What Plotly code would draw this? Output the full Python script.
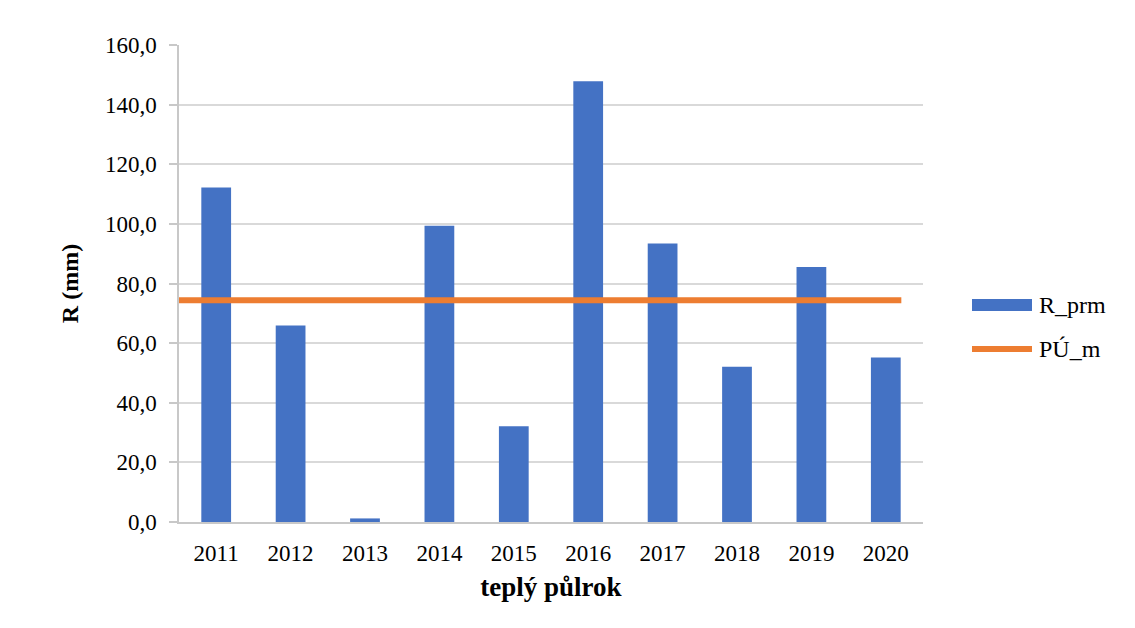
import plotly.graph_objects as go

years = ["2011", "2012", "2013", "2014", "2015", "2016", "2017", "2018", "2019", "2020"]
r_prm = [112.2, 65.9, 1.2, 99.4, 32.1, 147.8, 93.4, 52.1, 85.5, 55.2]
pu_m = [74.4] * len(years)
year_nums = [int(y) for y in years]
y_ticks = [0, 20, 40, 60, 80, 100, 120, 140, 160]
y_ticktext = [f"{v:.1f}".replace(".", ",") for v in y_ticks]

BLUE = "#4472C4"
ORANGE = "#ED7D31"
FONT = "Liberation Serif"

fig = go.Figure()
fig.add_trace(go.Bar(x=years, y=r_prm, name="R_prm", marker=dict(color=BLUE, line=dict(width=0)),
                     showlegend=False))
fig.add_trace(go.Scatter(x=year_nums, y=pu_m, name="PÚ_m", mode="lines", xaxis="x2",
                         line=dict(color=ORANGE, width=6), showlegend=False))

OFF = 8  # page body margin
L, R, T, B = 179 - OFF, 212 + OFF, 45 - OFF, 106 + OFF
W, H = 1135, 628

fig.update_layout(
    width=W, height=H,
    margin=dict(l=L, r=R, t=T, b=B),
    plot_bgcolor="white", paper_bgcolor="white",
    bargap=0.6,
    font=dict(family=FONT, size=23, color="black"),
    xaxis=dict(
        type="category", showgrid=False, showline=True, linecolor="#c8c8c8", linewidth=1.5,
        ticks="", ticklabelstandoff=10, tickfont=dict(size=23),
        title=dict(text="<b>teplý půlrok</b>", font=dict(size=27), standoff=12),
    ),
    xaxis2=dict(overlaying="x", range=[2011, 2020.27], visible=False),
    yaxis=dict(
        range=[0, 160], tickvals=y_ticks, ticktext=y_ticktext,
        showgrid=True, gridcolor="#d9d9d9", gridwidth=1.5,
        showline=True, linecolor="#c8c8c8", linewidth=1.5,
        ticks="outside", ticklen=8, tickcolor="#c8c8c8", tickwidth=1.5,
        ticklabelstandoff=8,
        tickfont=dict(size=23), zeroline=False,
        title=dict(text="<b>R (mm)</b>", font=dict(size=24), standoff=20),
    ),
)

# manual legend (paper coordinates, given in page pixels)
def px(x):
    return (x - OFF - L) / (W - L - R)

def py(y):
    return 1 - (y - OFF - T) / (H - T - B)

fig.add_shape(type="rect", xref="paper", yref="paper",
              x0=px(972), x1=px(1032), y0=py(311), y1=py(299),
              fillcolor=BLUE, line=dict(width=0))
fig.add_shape(type="line", xref="paper", yref="paper",
              x0=px(972), x1=px(1032), y0=py(349), y1=py(349),
              line=dict(color=ORANGE, width=6))
for text, yy in [("R_prm", 305), ("PÚ_m", 349)]:
    fig.add_annotation(text=text, xref="paper", yref="paper", x=px(1037), y=py(yy),
                       xanchor="left", yanchor="middle", showarrow=False,
                       font=dict(family=FONT, size=24, color="black"))

fig.write_html("out.html")
